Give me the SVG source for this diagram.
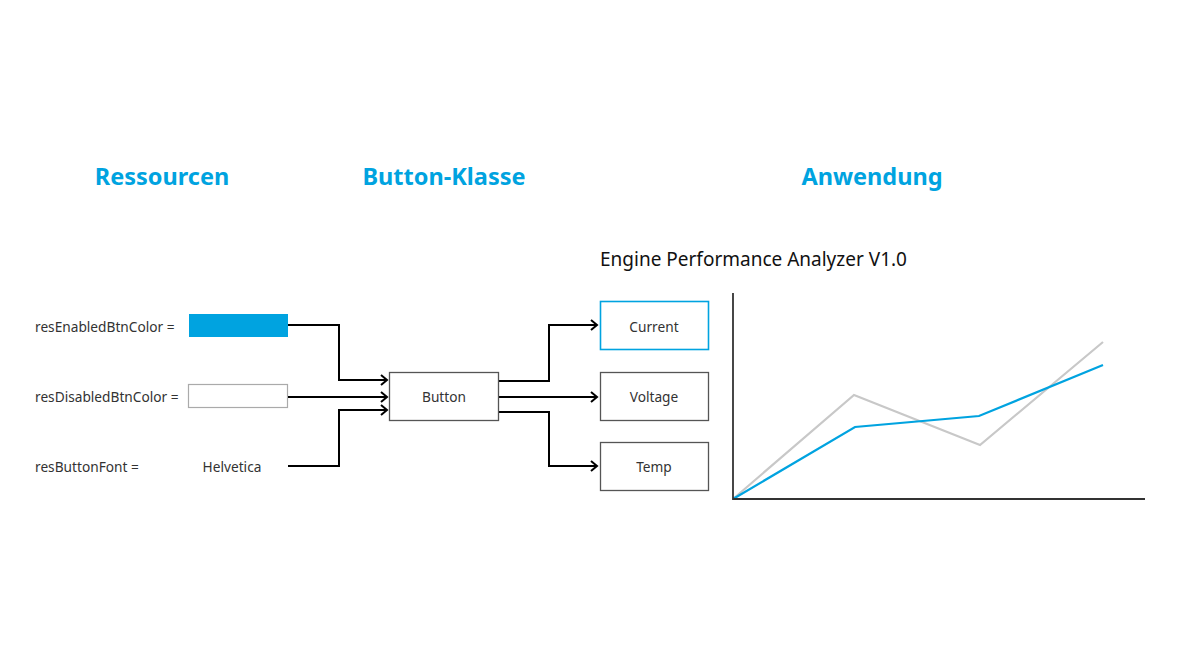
<svg xmlns="http://www.w3.org/2000/svg" width="1180" height="664" viewBox="0 0 1180 664">
<defs>
<style>
.h{font-family:"Noto Sans","Liberation Sans",sans-serif;font-weight:bold;font-size:23.5px;fill:#00A3E0;text-anchor:middle}
.t{font-family:"Noto Sans","Liberation Sans",sans-serif;font-size:13.7px;fill:#333}
.c{text-anchor:middle}
.box{fill:#fff;stroke:#555;stroke-width:1.3}
.conn{fill:none;stroke:#000;stroke-width:2}
</style>
<marker id="arr" markerWidth="10" markerHeight="12" refX="8" refY="6" orient="auto" markerUnits="userSpaceOnUse">
<path d="M2,1 L8,6 L2,11" fill="none" stroke="#000" stroke-width="2"/>
</marker>
</defs>
<rect width="1180" height="664" fill="#fff"/>
<text class="h" x="162" y="185">Ressourcen</text>
<text class="h" x="444" y="185">Button-Klasse</text>
<text class="h" x="872" y="185">Anwendung</text>

<g id="res-enabled">
<text class="t" x="35" y="332">resEnabledBtnColor =</text>
<rect x="189" y="314" width="99" height="23" fill="#00A3E0"/>
</g>
<g id="res-disabled">
<text class="t" x="35" y="402">resDisabledBtnColor =</text>
<rect x="188.5" y="384.5" width="99" height="23" fill="#fff" stroke="#aaa" stroke-width="1.2"/>
</g>
<g id="res-font">
<text class="t" x="35" y="472">resButtonFont =</text>
<text class="t c" x="232" y="472">Helvetica</text>
</g>

<g id="connectors">
<path class="conn" d="M288,325 H339 V380 H387" marker-end="url(#arr)"/>
<path class="conn" d="M288,397 H387" marker-end="url(#arr)"/>
<path class="conn" d="M288,466 H339 V410 H387" marker-end="url(#arr)"/>
<path class="conn" d="M499,381 H549 V325 H597" marker-end="url(#arr)"/>
<path class="conn" d="M499,397 H597" marker-end="url(#arr)"/>
<path class="conn" d="M499,412 H549 V466 H597" marker-end="url(#arr)"/>
</g>

<g id="button">
<rect class="box" x="389.5" y="372.5" width="109" height="48"/>
<text class="t c" x="444" y="402">Button</text>
</g>

<text class="t" x="600" y="266" style="font-size:19px;fill:#111">Engine Performance Analyzer V1.0</text>

<g id="current">
<rect x="600.5" y="301.5" width="108" height="48" fill="#fff" stroke="#00A3E0" stroke-width="1.6"/>
<text class="t c" x="654" y="332">Current</text>
</g>
<g id="voltage">
<rect class="box" x="600.5" y="372.5" width="108" height="48"/>
<text class="t c" x="654" y="402">Voltage</text>
</g>
<g id="temp">
<rect class="box" x="600.5" y="442.5" width="108" height="48"/>
<text class="t c" x="654" y="472">Temp</text>
</g>

<g id="chart">
<polyline points="733,499 854,395 980,445 1103,342" fill="none" stroke="#c8c8c8" stroke-width="2.2"/>
<polyline points="733,499 855,427 979,416 1103,365" fill="none" stroke="#00A3E0" stroke-width="2.2"/>
<path d="M733,293 V499 H1145" fill="none" stroke="#333" stroke-width="1.8"/>
</g>
</svg>
